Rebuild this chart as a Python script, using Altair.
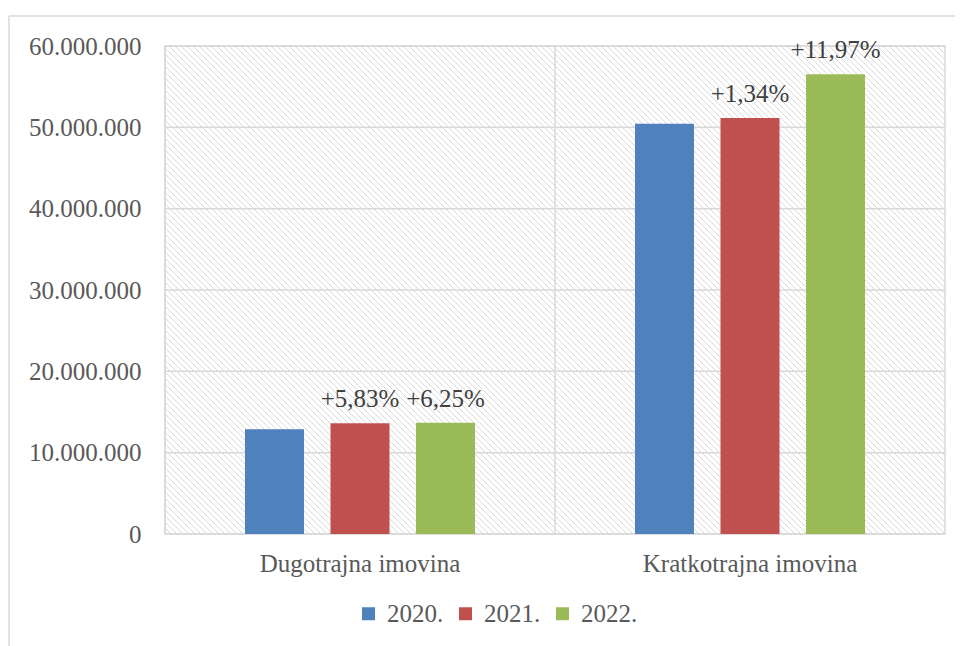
import altair as alt
import pandas as pd

# ---- data ----
categories = ["Dugotrajna imovina", "Kratkotrajna imovina"]
years = ["2020.", "2021.", "2022."]
values_2020 = [12870000, 50450000]
values_2021 = [13620000, 51150000]
values_2022 = [13670000, 56520000]
labels_2020 = ["", ""]
labels_2021 = ["+5,83%", "+1,34%"]
labels_2022 = ["+6,25%", "+11,97%"]
y_ticks = [0, 10000000, 20000000, 30000000, 40000000, 50000000, 60000000]
colors = ["#4F81BD", "#C0504D", "#9BBB59"]

rows = []
for i, c in enumerate(categories):
    for y, vals, labs in zip(years, [values_2020, values_2021, values_2022],
                             [labels_2020, labels_2021, labels_2022]):
        rows.append({"cat": c, "year": y, "value": vals[i], "label": labs[i]})
df = pd.DataFrame(rows)

W, H = 780, 488
FONT = "Liberation Serif"
FS = 25
GRID = "#d9d9d9"

x_axis = alt.Axis(title=None, ticks=False, domain=False, labelAngle=0, grid=False,
                  labelFontSize=FS, labelPadding=17, labelColor="#595959",
                  labelFont=FONT, labelLimit=0)
x_scale = alt.Scale(paddingInner=0, paddingOuter=0)
y_scale = alt.Scale(domain=[0, 60000000], nice=False)
y_axis = alt.Axis(title=None, values=y_ticks, grid=False, ticks=False,
                  domain=False, labelFontSize=FS, labelPadding=24,
                  labelColor="#595959", labelFont=FONT,
                  labelExpr="replace(format(datum.value, ','), /,/g, '.')")

x_enc = alt.X("cat:N", sort=categories, scale=x_scale, axis=x_axis)
xoff = alt.XOffset("year:N", sort=years,
                   scale=alt.Scale(paddingInner=0.31, paddingOuter=0.935))
y_enc = alt.Y("value:Q", scale=y_scale, axis=y_axis)

# hatch background (decorative texture)
hatch = alt.Chart(alt.sequence(0, 220, 1, as_="i")).transform_calculate(
    xa=f"datum.i * 6 - {H}", xb="datum.i * 6"
).mark_rule(color="#d9d9d9", strokeWidth=1, clip=True).encode(
    x=alt.X("xa:Q", scale=None, axis=None),
    x2="xb:Q",
    y=alt.value(0),
    y2=alt.value(H),
)

grid_df = pd.DataFrame({"value": y_ticks})
hgrid = alt.Chart(grid_df).mark_rule(color=GRID, strokeWidth=1.5).encode(
    y=y_enc
)

vgrid = alt.Chart(pd.DataFrame({"cat": categories})).mark_rule(
    color=GRID, strokeWidth=1.5).encode(
    x=alt.X("cat:N", sort=categories, bandPosition=0, scale=x_scale, axis=x_axis),
    y=alt.value(0), y2=alt.value(H)
)

bars = alt.Chart(df).mark_bar().encode(
    x=x_enc, xOffset=xoff, y=y_enc,
    color=alt.Color("year:N", sort=years,
                    scale=alt.Scale(domain=years, range=colors),
                    legend=alt.Legend(title=None, orient="none", direction="horizontal",
                                      legendX=191, legendY=555, symbolType="square",
                                      symbolSize=169, symbolStrokeWidth=0,
                                      labelFontSize=FS, labelFont=FONT,
                                      labelColor="#595959", labelOffset=6,
                                      columnPadding=9)),
)

texts = alt.Chart(df).mark_text(baseline="alphabetic", dy=-16, fontSize=FS,
                                font=FONT, color="#404040").encode(
    x=x_enc, xOffset=xoff, y=y_enc, text="label:N"
)

border_top = alt.Chart(alt.Data(values=[{}])).mark_rule(
    color=GRID, strokeWidth=1.5, clip=False).encode(
    x=alt.value(-156), x2=alt.value(800), y=alt.value(-30))
border_left = alt.Chart(alt.Data(values=[{}])).mark_rule(
    color=GRID, strokeWidth=1.5, clip=False).encode(
    x=alt.value(-156), y=alt.value(-30), y2=alt.value(610))

main = alt.layer(hgrid, vgrid, bars, texts, border_top, border_left)

chart = alt.layer(hatch, main).resolve_scale(
    x="independent", y="independent"
).properties(
    width=W, height=H,
    padding={"left": 157, "top": 38, "right": 10, "bottom": 112},
    autosize=alt.AutoSizeParams(type="none"),
).configure_view(stroke=GRID, strokeWidth=1.5)

chart.save("out.html", embed_options={"renderer": "svg", "actions": False})
